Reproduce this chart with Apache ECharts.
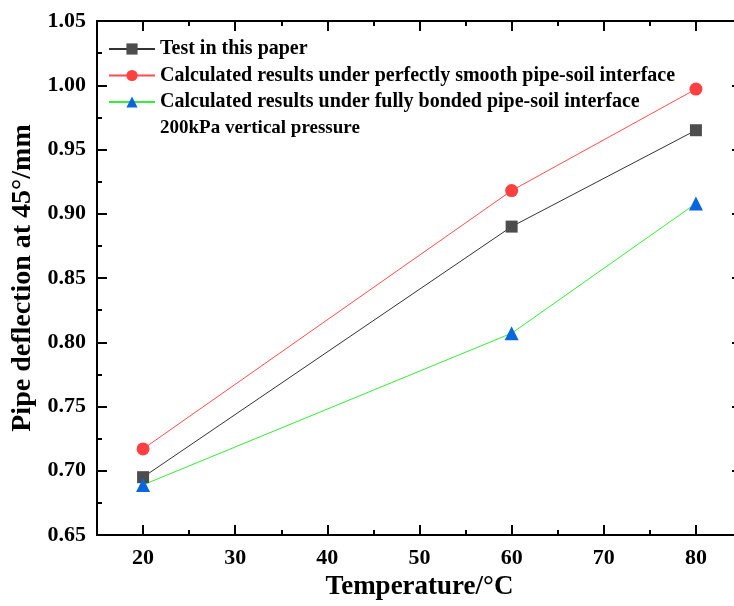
<!DOCTYPE html>
<html>
<head>
<meta charset="utf-8">
<script src="https://cdn.jsdelivr.net/npm/echarts@6/dist/echarts.min.js"></script>
<style>html,body{margin:0;padding:0;background:#fff;overflow:hidden}#wrap{width:734px;height:606px;overflow:hidden}#c{width:760px;height:606px}</style>
</head>
<body>
<div id="wrap"><div id="c"></div></div>
<script>
var temperatures = [20, 60, 80];
var testValues = [0.695, 0.890, 0.965];
var smoothValues = [0.717, 0.918, 0.997];
var bondedValues = [0.689, 0.807, 0.908];
var seriesNames = [
  'Test in this paper',
  'Calculated results under perfectly smooth pipe-soil interface',
  'Calculated results under fully bonded pipe-soil interface'
];
var noteText = '200kPa vertical pressure';

function pairs(xs, ys) { return xs.map(function (x, i) { return [x, ys[i]]; }); }

var font = 'Liberation Serif, Times New Roman, serif';
var chart = echarts.init(document.getElementById('c'), null, { renderer: 'canvas' });

var axisLine = { show: true, lineStyle: { color: '#000', width: 2 } };

chart.setOption({
  backgroundColor: '#fff',
  animation: false,
  grid: { left: 97, top: 21, width: 645, height: 516 },
  legend: {
    orient: 'vertical', left: 108, top: 38, padding: 0,
    itemWidth: 46, itemHeight: 14, itemGap: 4.5,
    textStyle: { fontFamily: font, fontWeight: 'bold', fontSize: 20, color: '#000', lineHeight: 22 },
    data: seriesNames
  },
  graphic: [{
    type: 'text', left: 160, top: 119,
    style: { text: noteText, font: 'bold 19px ' + font, fill: '#000' }
  }],
  xAxis: [
    {
      type: 'value', min: 15, max: 85, position: 'bottom',
      name: 'Temperature/°C', nameLocation: 'middle', nameGap: 39,
      nameTextStyle: { fontFamily: font, fontWeight: 'bold', fontSize: 27, color: '#000' },
      axisLine: axisLine,
      axisTick: { inside: true, length: 10, lineStyle: { color: '#000', width: 2 } },
      axisLabel: { showMinLabel: false, showMaxLabel: false, margin: 12,
        fontFamily: font, fontWeight: 'bold', fontSize: 22, color: '#000' },
      splitLine: { show: false }
    },
    {
      type: 'value', min: 15, max: 85, interval: 5, position: 'bottom',
      axisLine: { show: false },
      axisTick: { inside: true, length: 5, lineStyle: { color: '#000', width: 2 } },
      axisLabel: { show: false }, splitLine: { show: false }
    },
    {
      type: 'value', min: 15, max: 85, position: 'top',
      axisLine: axisLine,
      axisTick: { inside: true, length: 10, lineStyle: { color: '#000', width: 2 } },
      axisLabel: { show: false }, splitLine: { show: false }
    },
    {
      type: 'value', min: 15, max: 85, interval: 5, position: 'top',
      axisLine: { show: false },
      axisTick: { inside: true, length: 5, lineStyle: { color: '#000', width: 2 } },
      axisLabel: { show: false }, splitLine: { show: false }
    }
  ],
  yAxis: [
    {
      type: 'value', min: 0.65, max: 1.05, interval: 0.05, position: 'left',
      name: 'Pipe deflection at 45°/mm', nameLocation: 'middle', nameGap: 55,
      nameTextStyle: { fontFamily: font, fontWeight: 'bold', fontSize: 28, color: '#000' },
      axisLine: axisLine,
      axisTick: { inside: true, length: 10, lineStyle: { color: '#000', width: 2 } },
      minorTick: { show: true, splitNumber: 2, length: 5, lineStyle: { color: '#000', width: 2 } },
      axisLabel: { margin: 11, fontFamily: font, fontWeight: 'bold', fontSize: 22, color: '#000',
        formatter: function (v) { return v.toFixed(2); } },
      splitLine: { show: false }, minorSplitLine: { show: false }
    },
    {
      type: 'value', min: 0.65, max: 1.05, interval: 0.05, position: 'right',
      axisLine: axisLine,
      axisTick: { inside: true, length: 10, lineStyle: { color: '#000', width: 2 } },
      minorTick: { show: true, splitNumber: 2, length: 5, lineStyle: { color: '#000', width: 2 } },
      axisLabel: { show: false }, splitLine: { show: false }
    }
  ],
  series: [
    {
      name: seriesNames[0], type: 'line', data: pairs(temperatures, testValues),
      symbol: 'rect', symbolSize: 12,
      itemStyle: { color: '#4d4d4d' },
      lineStyle: { color: '#333', width: 1 }
    },
    {
      name: seriesNames[1], type: 'line', data: pairs(temperatures, smoothValues),
      symbol: 'circle', symbolSize: 13,
      itemStyle: { color: '#ff4040' },
      lineStyle: { color: '#ff4d4d', width: 1 }
    },
    {
      name: seriesNames[2], type: 'line', data: pairs(temperatures, bondedValues),
      symbol: 'triangle', symbolSize: 14,
      itemStyle: { color: '#0a66dd' },
      lineStyle: { color: '#33ee33', width: 1 }
    }
  ]
});
</script>
</body>
</html>
